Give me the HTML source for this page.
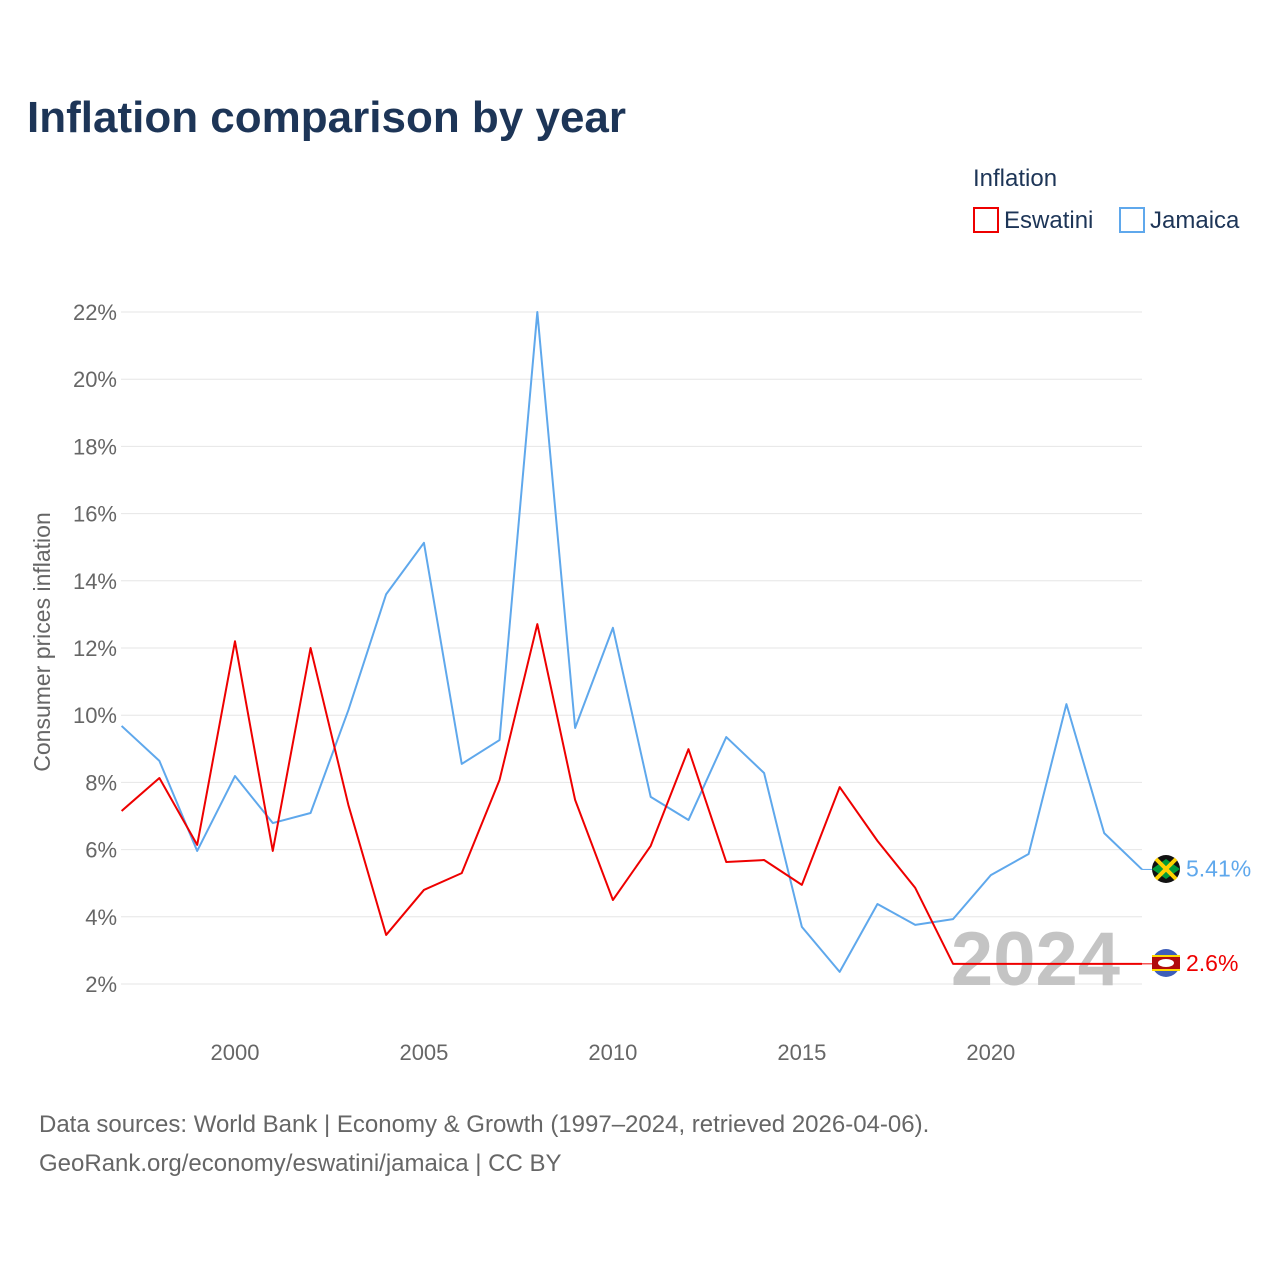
<!DOCTYPE html>
<html><head><meta charset="utf-8"><style>
body{margin:0;background:#fff;font-family:"Liberation Sans",sans-serif;}
svg text{font-family:"Liberation Sans",sans-serif;}
</style></head><body>
<svg width="1280" height="1280" xmlns="http://www.w3.org/2000/svg">
<text x="27" y="132" font-size="44" font-weight="bold" fill="#1d3557">Inflation comparison by year</text>
<text x="973" y="186" font-size="24" fill="#1d3557">Inflation</text>
<g><rect x="974" y="208" width="24" height="24" fill="none" stroke="#e00" stroke-width="2"/><text x="1004" y="228" font-size="24" fill="#1d3557">Eswatini</text></g>
<g><rect x="1120" y="208" width="24" height="24" fill="none" stroke="#5fa8ec" stroke-width="2"/><text x="1150" y="228" font-size="24" fill="#1d3557">Jamaica</text></g>
<g id="grid"></g>
<g id="yticks"></g>
<g id="xticks"></g>
<text transform="translate(50,642) rotate(-90)" text-anchor="middle" font-size="23" fill="#666">Consumer prices inflation</text>
<text x="1120" y="985" text-anchor="end" font-size="76" font-weight="bold" fill="#c4c4c4">2024</text>
<g id="series"></g>
<g><circle cx="1166" cy="869" r="14" fill="#111"/><path d="M1152 869 L1166 859 L1180 869 L1166 879Z" fill="#009b3a"/><path d="M1156 859 L1176 879 M1176 859 L1156 879" stroke="#fed100" stroke-width="4"/></g>
<g><circle cx="1166" cy="963" r="14" fill="#3e5eb9"/><rect x="1152" y="955" width="28" height="16" fill="#b10c0c"/><rect x="1152" y="955" width="28" height="2" fill="#ffd900"/><rect x="1152" y="969" width="28" height="2" fill="#ffd900"/><ellipse cx="1166" cy="963" rx="8" ry="4" fill="#fff"/></g>
<text id="lblJ" x="1186" y="876" font-size="23" fill="#5fa8ec">5.41%</text>
<text id="lblE" x="1186" y="970" font-size="23" fill="#e00">2.6%</text>
<text x="39" y="1132" font-size="24" fill="#666">Data sources: World Bank | Economy &amp; Growth (1997–2024, retrieved 2026-04-06).</text>
<text x="39" y="1171" font-size="24" fill="#666">GeoRank.org/economy/eswatini/jamaica | CC BY</text>
</svg>
<script>
const years=[1997,1998,1999,2000,2001,2002,2003,2004,2005,2006,2007,2008,2009,2010,2011,2012,2013,2014,2015,2016,2017,2018,2019,2020,2021,2022,2023,2024];
const jamaica=[9.68,8.64,5.96,8.19,6.79,7.09,10.15,13.6,15.13,8.55,9.26,22.0,9.62,12.6,7.57,6.88,9.35,8.28,3.70,2.36,4.38,3.76,3.93,5.24,5.87,10.33,6.49,5.41];
const eswatini=[7.15,8.13,6.14,12.2,5.96,12.0,7.33,3.46,4.80,5.30,8.07,12.71,7.48,4.5,6.11,8.99,5.63,5.69,4.95,7.86,6.26,4.86,2.6,2.6,2.6,2.6,2.6,2.6];
const yTicks=[2,4,6,8,10,12,14,16,18,20,22];
const xTicks=[2000,2005,2010,2015,2020];
const NS="http://www.w3.org/2000/svg";
const X=v=>121.6+(v-1997)*(1142-121.6)/27;
const Y=v=>984-(v-2)*33.6;
function mk(t,a,p){const e=document.createElementNS(NS,t);for(const k in a)e.setAttribute(k,a[k]);p.appendChild(e);return e;}
const grid=document.getElementById('grid'),yt=document.getElementById('yticks'),xt=document.getElementById('xticks'),se=document.getElementById('series');
yTicks.forEach(v=>{
 const l=mk('line',{x1:121,x2:1142,y1:Y(v),y2:Y(v),stroke:'#e6e6e6','stroke-width':1},grid);
 
 
 const t=mk('text',{x:117,y:Y(v)+8,'text-anchor':'end','font-size':22,fill:'#666'},yt);
 t.textContent=v+'%';
 
 
});
xTicks.forEach(v=>{
 const t=mk('text',{x:X(v),y:1060,'text-anchor':'middle','font-size':22,fill:'#666'},xt);
 t.textContent=v;
 
 
});
function line(d,c,n){
 const p=mk('polyline',{points:d.map((v,i)=>X(years[i])+','+Y(v)).join(' '),fill:'none',stroke:c,'stroke-width':2,'stroke-linejoin':'round'},se);
 
 
 const last=d[d.length-1];
 const g=mk('line',{x1:X(years[years.length-1]),x2:1152,y1:Y(last),y2:Y(last),stroke:c,'stroke-width':1},se);
 
 
 return last;
}
line(jamaica,'#5fa8ec','jamaica-line');
line(eswatini,'#e00','eswatini-line');
const jl=jamaica[jamaica.length-1],el=eswatini[eswatini.length-1];
document.getElementById('lblJ').textContent=jl+'%';
document.getElementById('lblJ').setAttribute('y',Y(jl)+7);
document.getElementById('lblE').textContent=el+'%';
document.getElementById('lblE').setAttribute('y',Y(el)+7);
</script>
</body></html>
